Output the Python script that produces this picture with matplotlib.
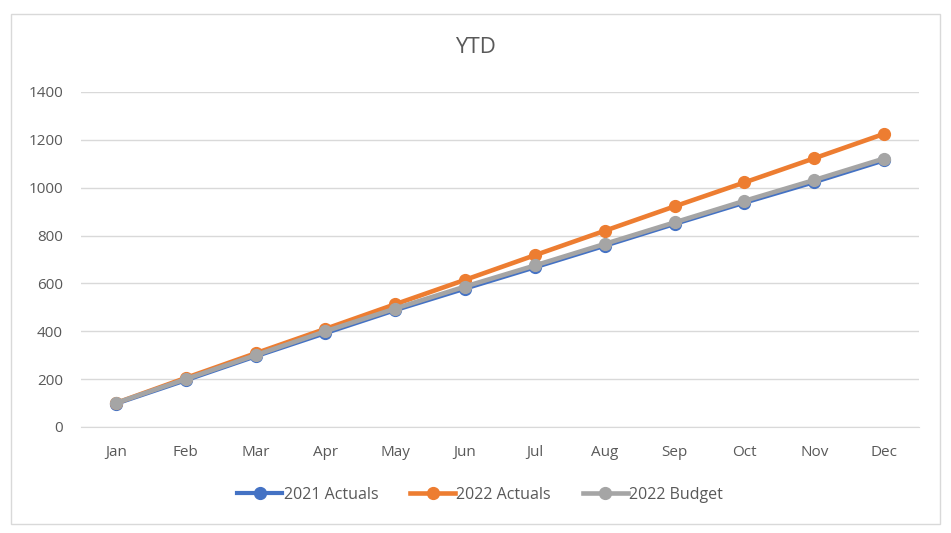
import matplotlib.pyplot as plt
from matplotlib.patches import Rectangle

months = ["Jan", "Feb", "Mar", "Apr", "May", "Jun",
          "Jul", "Aug", "Sep", "Oct", "Nov", "Dec"]
actuals_2021 = [97, 195, 295, 392, 488, 578, 667, 757, 848, 937, 1023, 1114]
actuals_2022 = [100, 205, 308, 410, 513, 615, 718, 820, 922, 1022, 1123, 1225]
budget_2022 = [100, 200, 300, 400, 495, 587, 675, 765, 855, 945, 1032, 1122]

plt.rcParams['font.family'] = ['Open Sans', 'DejaVu Sans']
text_color = '#595959'
grid_color = '#d9d9d9'

fig = plt.figure(figsize=(9.51, 5.33), dpi=100)
ax = fig.add_axes([0.0852, 0.1989, 0.8812, 0.6285])

# outer chart border
fig.patches.append(Rectangle((11 / 951, 9 / 533), 929 / 951, 510 / 533,
                             transform=fig.transFigure, fill=False,
                             edgecolor=grid_color, linewidth=1))

x = range(len(months))
ax.plot(x, actuals_2021, color='#4472C4', lw=3, marker='o', ms=8.5, label='2021 Actuals')
ax.plot(x, actuals_2022, color='#ED7D31', lw=3.3, marker='o', ms=8.5, label='2022 Actuals')
ax.plot(x, budget_2022, color='#A5A5A5', lw=3.3, marker='o', ms=8.5, label='2022 Budget')

ax.set_xlim(-0.5, 11.5)
ax.set_ylim(0, 1400)
ax.set_yticks(range(0, 1401, 200))
ax.set_xticks(list(x))
ax.set_xticklabels(months)
ax.yaxis.grid(True, color=grid_color, lw=1)
ax.set_axisbelow(True)
for side in ['top', 'right', 'left']:
    ax.spines[side].set_visible(False)
ax.spines['bottom'].set_color(grid_color)
ax.tick_params(axis='both', length=0, colors=text_color, labelsize=11)
ax.tick_params(axis='x', pad=13)
ax.tick_params(axis='y', pad=13)

fig.text(0.5, 0.91, "YTD", ha='center', va='center', fontsize=16, color=text_color)

fig.legend(loc='center', bbox_to_anchor=(0.505, 0.072), ncol=3, frameon=False,
           fontsize=11.5, labelcolor=text_color, handlelength=2.8,
           handletextpad=0.1, columnspacing=2.0)

fig.savefig('out.png', dpi=100)
